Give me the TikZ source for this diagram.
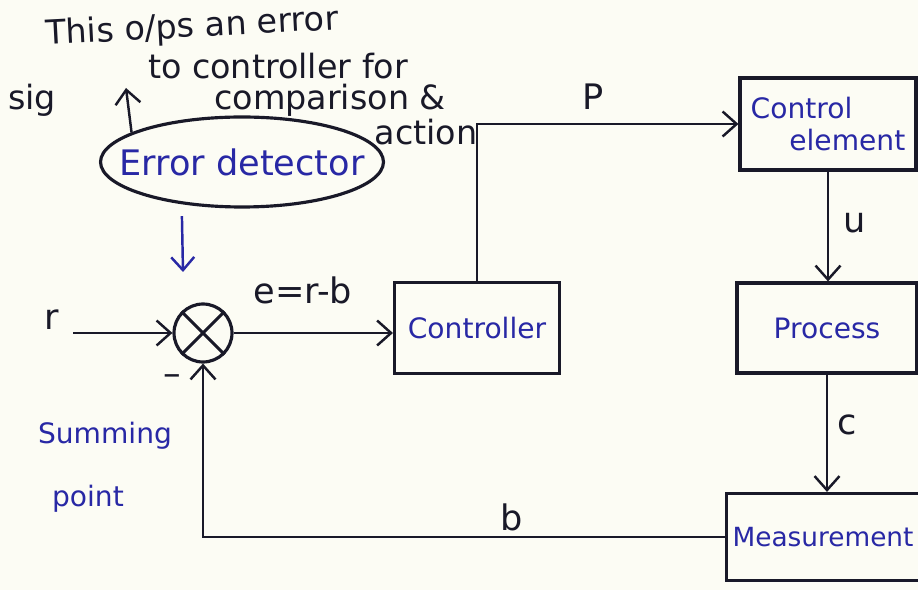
\documentclass[tikz,border=0pt]{standalone}
\usepackage{fontspec}
\setmainfont{DejaVu Sans}
\usepackage{xcolor}
\usepackage{tikz}
\usetikzlibrary{arrows.meta,positioning,shapes.geometric}
\definecolor{ink}{RGB}{25,25,40}
\definecolor{pen}{RGB}{40,40,165}
\definecolor{paper}{RGB}{252,252,244}

\begin{document}
\begin{tikzpicture}[
  x=0.02cm, y=-0.02cm,
  block/.style={draw=ink, line width=1.8pt, minimum height=1.8cm, text=pen, font=\fontsize{16}{18}\selectfont, align=center},
  sumpt/.style={circle, draw=ink, line width=1.8pt, minimum size=1.16cm, inner sep=0pt},
  sig/.style={text=ink, font=\fontsize{20}{22}\selectfont, inner sep=0pt},
  note/.style={text=ink, font=\fontsize{19}{21}\selectfont, inner sep=0pt},
  arrow/.style={draw=ink, line width=1.4pt, -{Straight Barb[length=2.8mm,width=5mm]}},
  bluearrow/.style={draw=pen, line width=1.4pt, -{Straight Barb[length=2.6mm,width=4.6mm]}}
]
\fill[paper] (0,0) rectangle (918,590);
\useasboundingbox (0,0) rectangle (918,590);
\node[sumpt] (sum) at (203,333) {};
\draw[ink, line width=1.8pt] (sum.45) -- (sum.225) (sum.135) -- (sum.-45);
\node[block, minimum width=3.3cm, minimum height=1.82cm] (ctrl) at (477,328) {Controller};
\node[block, minimum width=3.52cm, minimum height=1.84cm, align=left] (elem) at (828,124) {Control\\\hspace*{22pt}element};
\node[block, minimum width=3.6cm] (proc) at (827,328) {Process};
\node[block, minimum width=3.62cm, minimum height=1.74cm, font=\fontsize{15}{17}\selectfont] (meas) at (823,537) {Measurement};
\node[ellipse, draw=ink, line width=1.8pt, minimum width=5.66cm, minimum height=1.8cm, inner xsep=-16pt, inner ysep=0pt, text=pen, font=\fontsize{20}{22}\selectfont] (err) at (242,162) {Error detector};
\node[sig] (rlab) at (52,320) {r};
\node[sig] (elab) at (303,290) {e=r-b};
\node[sig] (plab) at (593,97) {P};
\node[sig] (ulab) at (855,223) {u};
\node[sig] (clab) at (847,425) {c};
\node[sig] (blab) at (512,517) {b};
\node[sig] (minus) at (172,380) {–};
\node[text=pen, font=\fontsize{16}{36}\selectfont, align=left, inner sep=0pt] (summing) at (105,467) {Summing\\\hspace*{8pt}point};
\node[note, rotate=3] (n1) at (192,28) {This o/ps an error};
\node[note] (n2) at (278,66) {to controller for};
\node[note] (n3) at (32,100) {sig};
\node[note] (n4) at (330,100) {comparison \&};
\node[note] (n5) at (426,132) {action};
\coordinate (sigtip) at (126,88);
\coordinate (dettip) at (183,272);
\coordinate (rin) at (73,333);
\draw[arrow] (err.165) -- (sigtip);
\draw[bluearrow, shorten <=0.24cm] (err.215) -- (dettip);
\draw[arrow] (rin) -- (sum.west);
\draw[arrow] (sum.east) -- (sum.east -| ctrl.west);
\draw[arrow] (ctrl.north) |- (elem.west);
\draw[arrow] (elem.south) -- (elem.south |- proc.north);
\draw[arrow] (proc.south) -- (proc.south |- meas.north);
\draw[arrow] (meas.west) -| (sum.south);
\end{tikzpicture}
\end{document}
